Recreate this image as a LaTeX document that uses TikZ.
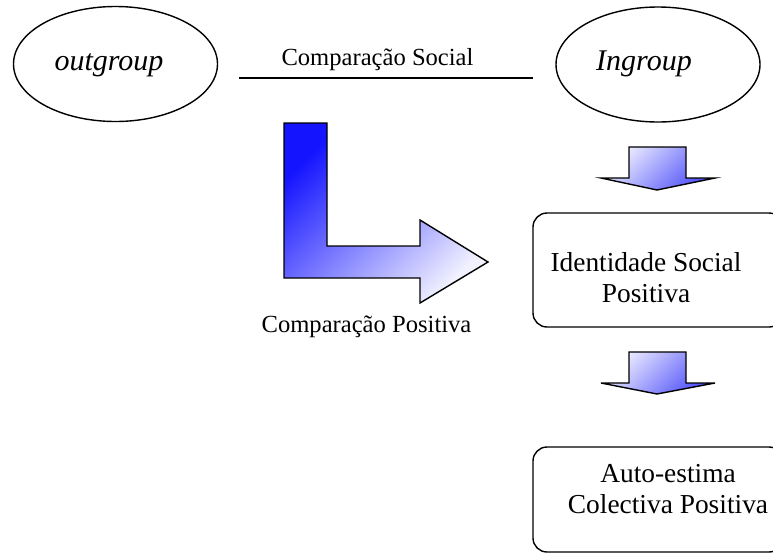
\documentclass[tikz,border=0pt]{standalone}
\usepackage{fontspec}
\setmainfont{Liberation Serif}
\usetikzlibrary{shapes.geometric}
\definecolor{deepblue}{RGB}{20,20,255}
\definecolor{midblue}{RGB}{80,80,250}
\definecolor{paleblue}{RGB}{242,242,255}
\begin{document}
\begin{tikzpicture}[x=1pt,y=-1pt,line join=miter,
  grp/.style={draw,ellipse,line width=1.4pt,minimum width=204pt,minimum height=115pt,inner sep=0pt},
  grptext/.style={anchor=base,inner sep=0pt,font=\fontsize{30}{34}\selectfont\itshape},
  lbl/.style={anchor=base,inner sep=0pt,font=\fontsize{24.6}{30}\selectfont},
  boxtext/.style={anchor=base,inner sep=0pt,font=\fontsize{27.4}{31}\selectfont},
  stage/.style={draw,rounded corners=14pt,line width=1.4pt,minimum width=250pt,inner sep=0pt},
  bendarrow/.style={draw,line width=1.4pt,top color=deepblue,bottom color=paleblue,shading angle=45},
  downarrow/.style={draw,line width=1.4pt,top color=paleblue,bottom color=midblue,shading angle=45}]
\useasboundingbox (0,0) rectangle (773,555);
\clip (0,0) rectangle (773,555);

% the two groups
\node[grp] (out) at (115.5,64) {};
\node[grptext] (outtext) at (109,70) {outgroup};
\node[grp] (in) at (658,64.5) {};
\node[grptext] (intext) at (644,70) {Ingroup};

% social comparison line between them
\coordinate (cs-a) at (239,78);
\coordinate (cs-b) at (533,78);
\draw[line width=2pt] (cs-a) -- (cs-b);
\node[lbl] (cs) at (377.5,65) {Comparação Social};

% bent arrow: positive comparison
\path[bendarrow] (284,123) -- (327,123) -- (327,246) -- (420,246) -- (420,220)
  -- (488,262) -- (420,303) -- (420,278) -- (284,278) -- cycle;
\node[lbl] (cp) at (366.5,332) {Comparação Positiva};

% downward block arrows
\path[downarrow] (629,147) -- (686,147) -- (686,178) -- (715,178) -- (657,190)
  -- (601,178) -- (629,178) -- cycle;
\path[downarrow] (629,352) -- (686,352) -- (686,383) -- (715,383) -- (657,394)
  -- (601,383) -- (629,383) -- cycle;

% outcome boxes
\node[stage,minimum height=114pt] (box1) at (658,270) {};
\node[boxtext] (t1a) at (646,271) {Identidade Social};
\node[boxtext] (t1b) at (646,302) {Positiva};

\node[stage,minimum height=105pt] (box2) at (658,499.5) {};
\node[boxtext] (t2a) at (668,482) {Auto-estima};
\node[boxtext] (t2b) at (668,513) {Colectiva Positiva};
\end{tikzpicture}
\end{document}
